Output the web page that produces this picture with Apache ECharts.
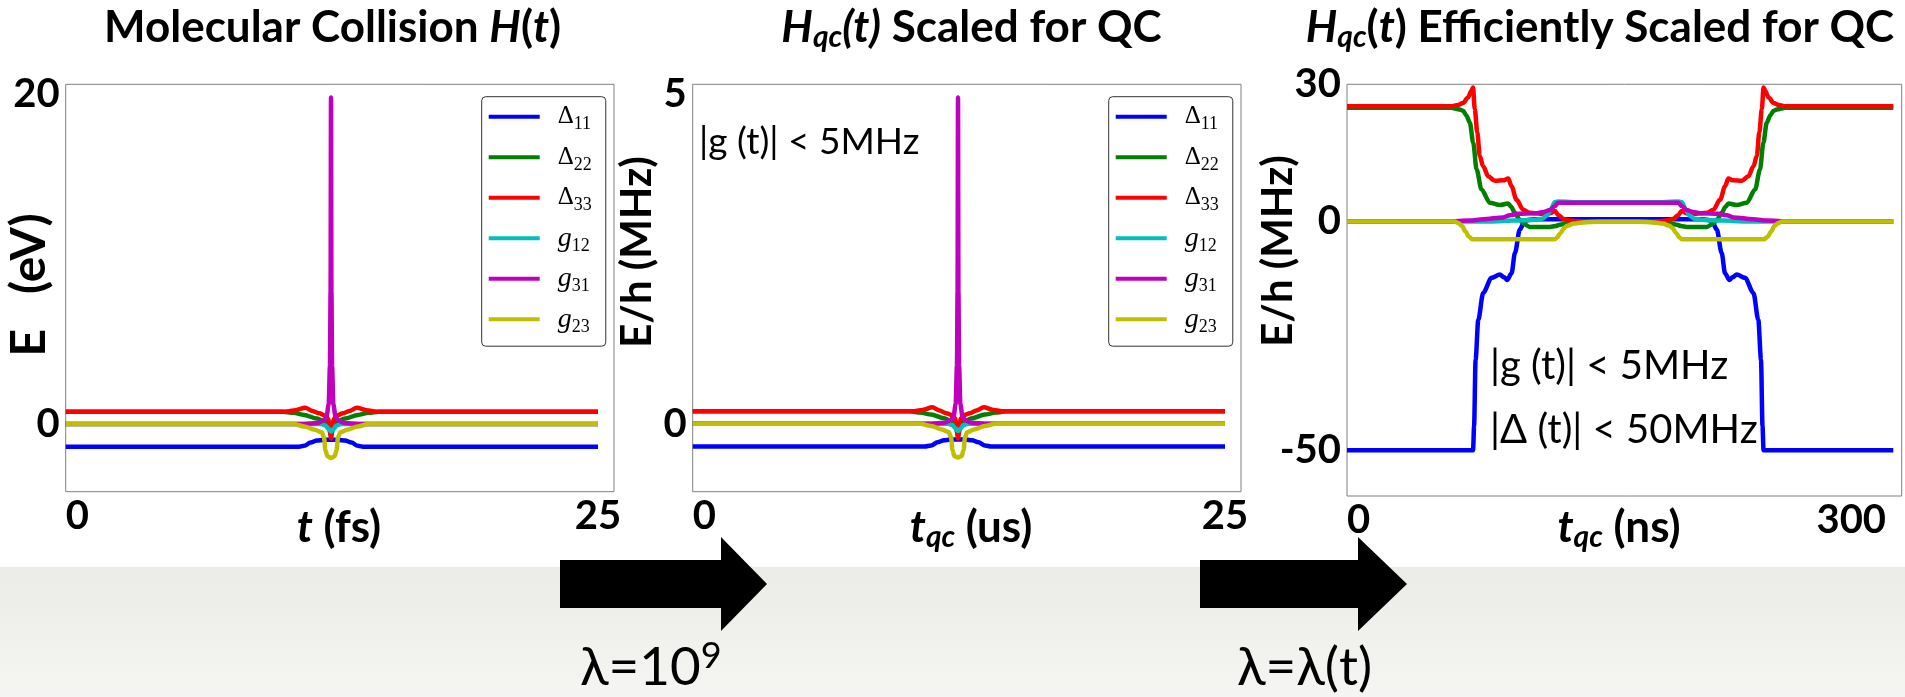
<!DOCTYPE html>
<html>
<head>
<meta charset="utf-8">
<script src="https://cdn.jsdelivr.net/npm/echarts@6/dist/echarts.min.js"></script>
<style>
html, body { margin: 0; padding: 0; background: #fff; }
#chart { width: 1905px; height: 697px; }
</style>
</head>
<body>
<div id="chart"></div>
<script>
// panel 1: molecular collision, t (fs) vs E (eV)
const d11_fs = [[0,-1.38],[10.9,-1.38],[11.2,-1.32],[11.5,-1.12],[11.8,-1.0],[12.1,-0.96],[12.46,-0.95],[12.82,-0.96],[13.12,-1.0],[13.42,-1.12],[13.72,-1.32],[14.02,-1.38],[25,-1.38]]
const d22_fs = [[0,0.75],[10.2,0.75],[10.7,0.68],[11.2,0.55],[11.8,0.34],[12.2,0.14],[12.35,-0.2],[12.46,-0.7],[12.57,-0.2],[12.72,0.14],[13.12,0.34],[13.72,0.55],[14.22,0.68],[14.72,0.75],[25,0.75]]
const d33_fs = [[0,0.75],[10.3,0.75],[10.8,0.84],[11.25,0.99],[11.6,0.8],[11.9,0.65],[12.2,0.52],[12.33,0.3],[12.4,-0.3],[12.46,-0.87],[12.52,-0.3],[12.59,0.3],[12.72,0.52],[13.02,0.65],[13.32,0.8],[13.67,0.99],[14.12,0.84],[14.62,0.75],[25,0.75]]
const g12_fs = [[0,0],[12.0,0],[12.2,-0.08],[12.35,-0.3],[12.46,-0.45],[12.57,-0.3],[12.72,-0.08],[12.92,0],[25,0]]
const g31_fs = [[0,0],[11.2,0],[11.8,0.06],[12.1,0.2],[12.25,0.45],[12.35,1.2],[12.41,3.5],[12.44,8],[12.46,19.8],[12.48,8],[12.51,3.5],[12.57,1.2],[12.67,0.45],[12.82,0.2],[13.12,0.06],[13.72,0],[25,0]]
const g23_fs = [[0,0],[10.7,0],[11.2,-0.14],[11.7,-0.34],[12.02,-0.5],[12.13,-0.8],[12.2,-1.6],[12.29,-1.95],[12.46,-2.05],[12.63,-1.95],[12.72,-1.6],[12.79,-0.8],[12.9,-0.5],[13.22,-0.34],[13.72,-0.14],[14.22,0],[25,0]]

// panel 2: scaled for QC, t (us) vs E/h (MHz)
const d11_us = [[0,-0.345],[10.9,-0.345],[11.2,-0.33],[11.5,-0.28],[11.8,-0.25],[12.1,-0.24],[12.46,-0.24],[12.82,-0.24],[13.12,-0.25],[13.42,-0.28],[13.72,-0.33],[14.02,-0.345],[25,-0.345]]
const d22_us = [[0,0.19],[10.2,0.19],[10.7,0.17],[11.2,0.14],[11.8,0.085],[12.2,0.035],[12.35,-0.05],[12.46,-0.18],[12.57,-0.05],[12.72,0.035],[13.12,0.085],[13.72,0.14],[14.22,0.17],[14.72,0.19],[25,0.19]]
const d33_us = [[0,0.19],[10.3,0.19],[10.8,0.21],[11.25,0.25],[11.6,0.2],[11.9,0.16],[12.2,0.13],[12.33,0.08],[12.4,-0.08],[12.46,-0.22],[12.52,-0.08],[12.59,0.08],[12.72,0.13],[13.02,0.16],[13.32,0.2],[13.67,0.25],[14.12,0.21],[14.62,0.19],[25,0.19]]
const g12_us = [[0,0],[12.0,0],[12.2,-0.02],[12.35,-0.075],[12.46,-0.11],[12.57,-0.075],[12.72,-0.02],[12.92,0],[25,0]]
const g31_us = [[0,0],[11.2,0],[11.8,0.015],[12.1,0.05],[12.25,0.11],[12.35,0.3],[12.41,0.88],[12.44,2],[12.46,4.95],[12.48,2],[12.51,0.88],[12.57,0.3],[12.67,0.11],[12.82,0.05],[13.12,0.015],[13.72,0],[25,0]]
const g23_us = [[0,0],[10.7,0],[11.2,-0.035],[11.7,-0.085],[12.02,-0.125],[12.13,-0.2],[12.2,-0.4],[12.29,-0.49],[12.46,-0.51],[12.63,-0.49],[12.72,-0.4],[12.79,-0.2],[12.9,-0.125],[13.22,-0.085],[13.72,-0.035],[14.22,0],[25,0]]

// panel 3: efficiently scaled, t (ns) vs E/h (MHz)
const d11_ns = [[0,-50],[75,-50],[75.6,-44.8],[76.5,-30.2],[78.1,-21.5],[81,-15.6],[86,-12.3],[90.9,-11.6],[93.5,-12.2],[95.3,-12.8],[97.9,-11.3],[99.9,-6.9],[102.8,-1.75],[105.8,0.2],[110,0.45],[116.7,0.5],[206.1,0.5],[212.8,0.45],[217,0.2],[220,-1.75],[222.9,-6.9],[224.9,-11.3],[227.5,-12.8],[229.3,-12.2],[231.9,-11.6],[236.8,-12.3],[241.8,-15.6],[244.7,-21.5],[246.3,-30.2],[247.2,-44.8],[247.8,-50],[325,-50]]
const d22_ns = [[0,24.9],[62,24.9],[67,24.5],[69.1,24.2],[71,23.2],[73.1,21.6],[75.1,17.2],[77.1,11.4],[80,7.0],[85,4.1],[90.9,3.6],[95.9,3.95],[97.5,3.3],[99.9,1.9],[102.5,0.5],[104.8,-0.44],[108.8,-1.17],[120.7,-1.17],[124,-1.0],[126.6,-0.7],[131,-0.4],[136.5,-0.2],[145,0],[177.8,0],[186.3,-0.2],[191.8,-0.4],[196.2,-0.7],[198.8,-1.0],[202.1,-1.17],[214,-1.17],[218,-0.44],[220.3,0.5],[222.9,1.9],[225.3,3.3],[226.9,3.95],[231.9,3.6],[237.8,4.1],[242.8,7.0],[245.7,11.4],[247.7,17.2],[249.7,21.6],[251.8,23.2],[253.7,24.2],[255.8,24.5],[260.8,24.9],[325,24.9]]
const d33_ns = [[0,25.2],[62,25.2],[66,25.5],[69,25.9],[72,27.1],[74,28.6],[75,29.3],[76,24.6],[77.5,19.5],[79,14.3],[81,12.1],[84,9.9],[88,8.9],[93,9.0],[95.9,9.4],[97.9,7.7],[100.8,4.8],[104.8,2.6],[108.8,1.9],[115,1.7],[120.7,1.8],[123.7,2.3],[126,1.3],[129,0.55],[133,0.2],[138,0.05],[145,0],[177.8,0],[184.8,0.05],[189.8,0.2],[193.8,0.55],[196.8,1.3],[199.1,2.3],[202.1,1.8],[207.8,1.7],[214,1.9],[218,2.6],[222,4.8],[224.9,7.7],[226.9,9.4],[229.8,9.0],[234.8,8.9],[238.8,9.9],[241.8,12.1],[243.8,14.3],[245.3,19.5],[246.8,24.6],[247.8,29.3],[248.8,28.6],[250.8,27.1],[253.8,25.9],[256.8,25.5],[260.8,25.2],[325,25.2]]
const g12_ns = [[0,0],[85,0],[100,0.2],[110,0.35],[116,0.6],[119,1.3],[121.5,2.8],[123.5,4.2],[125.5,4.4],[135,4.2],[187.8,4.2],[197.3,4.4],[199.3,4.2],[201.3,2.8],[203.8,1.3],[206.8,0.6],[212.8,0.35],[222.8,0.2],[237.8,0],[325,0]]
const g31_ns = [[0,0],[60,0],[73,0.2],[81,0.5],[92.9,0.9],[96.9,1.4],[102,1.7],[112,1.8],[117,2.1],[120.7,2.5],[123.7,3.4],[125.6,4.1],[197.2,4.1],[199.1,3.4],[202.1,2.5],[205.8,2.1],[210.8,1.8],[220.8,1.7],[225.9,1.4],[229.9,0.9],[241.8,0.5],[249.8,0.2],[262.8,0],[325,0]]
const g23_ns = [[0,0],[64,0],[66.5,-0.4],[68.5,-1.0],[70.5,-2.2],[72.5,-3.3],[74.5,-3.85],[76,-3.9],[123.5,-3.9],[125,-3.5],[127,-2.5],[129,-1.5],[131,-0.9],[135,-0.45],[140,-0.2],[150,-0.05],[172.8,-0.05],[182.8,-0.2],[187.8,-0.45],[191.8,-0.9],[193.8,-1.5],[195.8,-2.5],[197.8,-3.5],[199.3,-3.9],[246.8,-3.9],[248.3,-3.85],[250.3,-3.3],[252.3,-2.2],[254.3,-1.0],[256.3,-0.4],[258.8,0],[325,0]]

const names = ['D11', 'D22', 'D33', 'g12', 'g31', 'g23']
const colors = ['#0000ff', '#008000', '#ff0000', '#00bfbf', '#bf00bf', '#bfbf00']
const legendText = {
    D11: '{d|Δ}{s|11}', D22: '{d|Δ}{s|22}', D33: '{d|Δ}{s|33}',
    g12: '{g|g}{s|12}', g31: '{g|g}{s|31}', g23: '{g|g}{s|23}'
}
const xTicks = [[0, 25], [0, 25], [0, 300]]
const yTicks = [[0, 20], [0, 5], [-50, 0, 30]]
const panels = [
    [d11_fs, d22_fs, d33_fs, g12_fs, g31_fs, g23_fs],
    [d11_us, d22_us, d33_us, g12_us, g31_us, g23_us],
    [d11_ns, d22_ns, d33_ns, g12_ns, g31_ns, g23_ns]
]

const SANS = 'Lato, "Open Sans", "DejaVu Sans", sans-serif'
const SERIF = '"Liberation Serif", "DejaVu Serif", serif'

let myChart = echarts.init(document.getElementById('chart'))

let seriesData = []
for (let p = 0; p < panels.length; p++) {
    for (let i = 0; i < names.length; i++) {
        seriesData.push({
            name: names[i], type: 'line', xAxisIndex: p, yAxisIndex: p,
            showSymbol: false, symbol: 'none', smooth: 0.3, smoothMonotone: 'x',
            color: colors[i], lineStyle: { width: 4.5, color: colors[i] },
            data: panels[p][i]
        })
    }
}

const gridBase = { show: true, borderColor: '#808080', borderWidth: 1, backgroundColor: 'transparent' }
const tickLabel = { fontSize: 40, fontWeight: 'bold', fontFamily: SANS, color: '#000' }

function legendAt(left) {
    return {
        left: left, top: 96.7, orient: 'vertical', icon: 'rect',
        itemWidth: 51, itemHeight: 4, itemGap: 6.5,
        padding: [3, 14, 10, 7],
        borderColor: '#333', borderWidth: 1, borderRadius: 4, backgroundColor: '#fff',
        data: names,
        formatter: n => legendText[n],
        textStyle: {
            color: '#000', padding: [0, 0, 0, 13],
            rich: {
                d: { fontFamily: SERIF, fontSize: 25, lineHeight: 32, color: '#000' },
                g: { fontFamily: SERIF, fontStyle: 'italic', fontSize: 28, lineHeight: 32, color: '#000' },
                s: { fontFamily: SERIF, fontSize: 18, lineHeight: 16, padding: [16, 0, 0, 0], color: '#000' }
            }
        }
    }
}

function txt(x, y, text, rich, extra) {
    return Object.assign({
        type: 'text', x: x, y: y, z: 10,
        style: { text: text, align: 'center', verticalAlign: 'middle', fill: '#000', rich: rich }
    }, extra || {})
}
function note(x, y, text, rich) {
    return { type: 'text', x: x, y: y, z: 10, style: { text: text, align: 'left', verticalAlign: 'middle', fill: '#000', rich: rich } }
}

const titleRich = {
    a: { fontFamily: SANS, fontWeight: 'bold', fontSize: 44, fill: '#000', lineHeight: 52 },
    i: { fontFamily: SANS, fontWeight: 'bold', fontStyle: 'italic', fontSize: 44, fill: '#000', lineHeight: 52 },
    q: { fontFamily: SANS, fontWeight: 'bold', fontStyle: 'italic', fontSize: 30, fill: '#000', lineHeight: 34, padding: [18, 0, 0, 0] }
}
const nameRich = {
    a: { fontFamily: SANS, fontWeight: 'bold', fontSize: 44, fill: '#000', lineHeight: 52 },
    i: { fontFamily: SANS, fontWeight: 'bold', fontStyle: 'italic', fontSize: 44, fill: '#000', lineHeight: 52 },
    q: { fontFamily: SANS, fontWeight: 'bold', fontStyle: 'italic', fontSize: 30, fill: '#000', lineHeight: 34, padding: [18, 0, 0, 0] }
}
const yNameRich = {
    a: { fontFamily: SANS, fontWeight: 'bold', fontSize: 42, fill: '#000', lineHeight: 50 },
    b: { fontFamily: SANS, fontWeight: 'bold', fontSize: 48, fill: '#000', lineHeight: 56 }
}
const note2Rich = { a: { fontFamily: SANS, fontSize: 37, fill: '#000' } }
const note3Rich = { a: { fontFamily: SANS, fontSize: 40, fill: '#000' } }
const lamRich = {
    a: { fontFamily: SANS, fontSize: 53, fill: '#000', lineHeight: 60 },
    e: { fontFamily: SANS, fontSize: 36, fill: '#000', lineHeight: 36, padding: [0, 0, 24, 0] }
}

let option = {
    animation: false,
    backgroundColor: '#fff',
    grid: [
        Object.assign({ left: 65.7, top: 84.3, width: 548.3, height: 407.4 }, gridBase),
        Object.assign({ left: 692.7, top: 84.3, width: 548.3, height: 407.4 }, gridBase),
        Object.assign({ left: 1347, top: 84.3, width: 554.7, height: 411.7 }, gridBase)
    ],
    xAxis: [25.75, 25.75, 330].map((mx, k) => ({
        gridIndex: k, type: 'value', min: 0, max: mx,
        axisLine: { show: false }, axisTick: { show: false }, splitLine: { show: false },
        axisLabel: Object.assign({ customValues: xTicks[k], margin: 4, alignMinLabel: 'left' }, tickLabel)
    })),
    yAxis: [[-4.1, 20.6], [-1.03, 5.15], [-60, 30]].map((r, k) => ({
        gridIndex: k, type: 'value', min: r[0], max: r[1],
        axisLine: { show: false }, axisTick: { show: false }, splitLine: { show: false },
        axisLabel: Object.assign({ customValues: yTicks[k], margin: 6,
            padding: k === 2 ? [12, 0, 0, 0] : [0, 0, 10, 0] }, tickLabel)
    })),
    legend: [legendAt(481.7), legendAt(1108.7)],
    graphic: [
        // grey floor band with the arrows
        { type: 'rect', z: -1, shape: { x: 0, y: 567, width: 1905, height: 130 },
          style: { fill: new echarts.graphic.LinearGradient(0, 0, 0, 1, [{ offset: 0, color: '#ebebe7' }, { offset: 1, color: '#f5f5f3' }]) } },
        { type: 'polygon', z: 5, shape: { points: [[560, 560], [721, 560], [721, 537], [767, 584], [721, 631], [721, 608], [560, 608]] }, style: { fill: '#000' } },
        { type: 'polygon', z: 5, shape: { points: [[1200, 560], [1358, 560], [1358, 537], [1407, 584], [1358, 631], [1358, 608], [1200, 608]] }, style: { fill: '#000' } },
        txt(332.6, 28, '{a|Molecular Collision }{i|H}{a|(}{i|t}{a|)}', titleRich),
        txt(971.5, 28, '{i|H}{q|qc}{i|(t)}{a| Scaled for QC}', titleRich),
        txt(1600, 28, '{i|H}{q|qc}{a|(}{i|t}{a|) Efficiently Scaled for QC}', titleRich),
        txt(339, 528, '{i|t}{a| (fs)}', nameRich),
        txt(971, 528, '{i|t}{q|qc}{a| (us)}', nameRich),
        txt(1619, 528, '{i|t}{q|qc}{a| (ns)}', nameRich),
        txt(30, 285, '{b|E   (eV)}', yNameRich, { rotation: Math.PI / 2 }),
        txt(637, 252, '{a|E/h (MHz)}', yNameRich, { rotation: Math.PI / 2 }),
        txt(1278, 251, '{a|E/h (MHz)}', yNameRich, { rotation: Math.PI / 2 }),
        note(699, 142, '{a||g (t)| < 5MHz}', note2Rich),
        note(1490, 366, '{a||g (t)| < 5MHz}', note3Rich),
        note(1490, 430, '{a||Δ (t)| < 50MHz}', note3Rich),
        note(580, 668, '{a|λ=10}{e|9}', lamRich),
        note(1237, 668, '{a|λ=λ(t)}', lamRich)
    ],
    series: seriesData
}
myChart.setOption(option)
window.addEventListener('resize', function () {
    myChart.resize()
})
</script>
</body>
</html>
